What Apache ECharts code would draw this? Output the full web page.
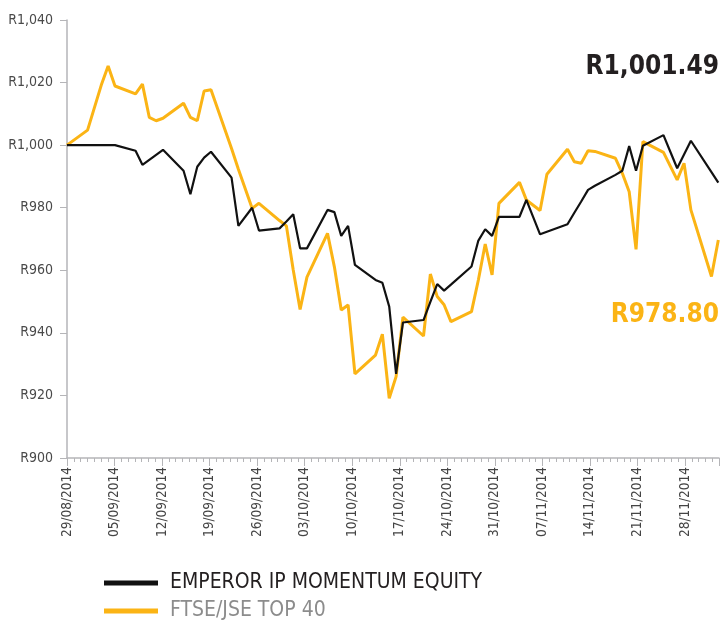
<!DOCTYPE html>
<html><head><meta charset="utf-8">
<script src="https://cdn.jsdelivr.net/npm/echarts@6/dist/echarts.min.js"></script>
<style>html,body{margin:0;padding:0;background:#fff}#c{width:721px;height:623px}</style>
</head><body><div id="c"></div>
<script>
// ---- DATA ----
const startDate = '29/08/2014';
const tradeDates = [
 '29/08/2014','01/09/2014','02/09/2014','03/09/2014','04/09/2014','05/09/2014',
 '08/09/2014','09/09/2014','10/09/2014','11/09/2014','12/09/2014',
 '15/09/2014','16/09/2014','17/09/2014','18/09/2014','19/09/2014',
 '22/09/2014','23/09/2014','25/09/2014','26/09/2014',
 '29/09/2014','30/09/2014','01/10/2014','02/10/2014','03/10/2014',
 '06/10/2014','07/10/2014','08/10/2014','09/10/2014','10/10/2014',
 '13/10/2014','14/10/2014','15/10/2014','16/10/2014','17/10/2014',
 '20/10/2014','21/10/2014','22/10/2014','23/10/2014','24/10/2014',
 '27/10/2014','28/10/2014','29/10/2014','30/10/2014','31/10/2014',
 '03/11/2014','04/11/2014','05/11/2014','06/11/2014','07/11/2014',
 '10/11/2014','11/11/2014','12/11/2014','13/11/2014','14/11/2014',
 '17/11/2014','18/11/2014','19/11/2014','20/11/2014','21/11/2014',
 '24/11/2014','25/11/2014','26/11/2014','27/11/2014','28/11/2014',
 '01/12/2014','02/12/2014'
];
const emperorValues = [
 1000.0,1000.0,1000.0,1000.0,1000.0,1000.0,
 998.2,993.7,995.3,996.9,998.5,
 991.8,984.3,993.1,996.0,997.9,
 989.6,974.2,980.0,972.7,
 973.4,975.6,977.9,967.0,967.0,
 979.3,978.6,971.0,974.2,961.7,
 956.9,956.0,948.4,926.9,943.3,
 944.1,949.9,955.6,953.5,955.4,
 961.2,969.5,973.1,971.0,977.1,
 977.1,982.5,977.0,971.5,972.3,
 974.7,978.4,982.0,985.7,987.0,
 990.5,991.8,999.7,991.8,999.8,
 1003.2,997.9,992.6,997.0,1001.4,
 991.4,988.0
];
const ftseValues = [
 1000.0,1004.8,1012.0,1019.2,1025.3,1018.9,
 1016.4,1019.5,1008.9,1007.8,1008.6,
 1013.4,1008.9,1007.8,1017.3,1017.7,
 998.9,992.3,979.8,981.4,
 975.9,974.2,960.1,947.5,957.8,
 971.8,961.1,947.3,948.9,926.9,
 932.9,939.6,919.1,926.0,945.0,
 939.0,958.8,951.6,949.0,943.6,
 946.8,956.9,968.4,958.5,981.4,
 988.1,982.5,980.8,979.1,990.7,
 998.7,994.7,994.2,998.2,998.0,
 995.8,991.0,985.1,966.7,1001.1,
 997.7,993.3,988.9,994.2,979.3,
 958.0,969.7
];
const seriesNames = ['EMPEROR IP MOMENTUM EQUITY', 'FTSE/JSE TOP 40'];
const endLabels = ['R1,001.49', 'R978.80'];
const yTicks = { min: 900, max: 1040, step: 20 };

// ---- helpers ----
function parseD(s){ const [d,m,y]=s.split('/').map(Number); return Date.UTC(y,m-1,d); }
const DAY = 86400000;
const t0 = parseD(startDate);
const dayIdx = s => Math.round((parseD(s)-t0)/DAY);
function fmtDay(v){
  const dt = new Date(t0 + v*DAY);
  const p = n => String(n).padStart(2,'0');
  return p(dt.getUTCDate())+'/'+p(dt.getUTCMonth()+1)+'/'+dt.getUTCFullYear();
}
function fmtR(v){ return 'R' + String(v).replace(/\B(?=(\d{3})+(?!\d))/g, ','); }

const FONT = "'DejaVu Sans Condensed','DejaVu Sans',sans-serif";
const ORANGE = '#FBB415';
const AXIS = '#b5b5b8';

const chart = echarts.init(document.getElementById('c'), null, {renderer:'canvas'});
chart.setOption({
  animation: false,
  backgroundColor: '#fff',
  title: [
    {text: endLabels[0], right: 2, top: 54, padding: 0, textStyle:{fontFamily:FONT, fontSize:26, fontWeight:'bold', color:'#231f20'}},
    {text: endLabels[1], right: 2, top: 302, padding: 0, textStyle:{fontFamily:FONT, fontSize:26, fontWeight:'bold', color:ORANGE}}
  ],
  legend: {
    orient: 'vertical', left: 104, top: 572, height: 120, padding: 0,
    itemWidth: 54, itemHeight: 5, itemGap: 6,
    icon: 'rect', selectedMode: false,
    textStyle: {fontFamily: FONT, fontSize: 21, padding:[0,0,0,7], lineHeight: 22},
    data: [
      {name: seriesNames[0], textStyle:{color:'#231f20'}},
      {name: seriesNames[1], textStyle:{color:'#8c8c8c'}}
    ]
  },
  grid: {left: 67, right: 2, top: 20, bottom: 165, containLabel: false},
  xAxis: [
    {
      type: 'value', min: 0, max: 96, interval: 7,
      axisLine: {lineStyle:{color:AXIS, width:1.5}},
      axisTick: {length: 8, lineStyle:{color:AXIS}},
      minorTick: {show: true, splitNumber: 7, length: 4, lineStyle:{color:AXIS}},
      splitLine: {show:false},
      axisLabel: {rotate: 90, margin: 9, color:'#444', fontFamily: FONT, fontSize: 13.5,
        showMaxLabel: false,
        formatter: v => (v % 7 === 0 ? fmtDay(v) : '')}
    },
    {type: 'value', min: 0, max: 95.1, show: false}
  ],
  yAxis: {
    type: 'value', min: yTicks.min, max: yTicks.max, interval: yTicks.step,
    axisLine: {show: true, lineStyle:{color:AXIS, width:1.5}},
    axisTick: {show: true, length: 7, lineStyle:{color:AXIS}},
    splitLine: {show:false},
    axisLabel: {margin: 14, color:'#4a4a4a', fontFamily: FONT, fontSize: 14, formatter: fmtR}
  },
  series: [
    {name: seriesNames[0], type:'line', xAxisIndex:1, showSymbol:false, symbol:'none',
     color:'#111', lineStyle:{width:2.2, color:'#111'}, z: 3,
     data: tradeDates.map((d,i)=>[dayIdx(d), emperorValues[i]])},
    {name: seriesNames[1], type:'line', xAxisIndex:1, showSymbol:false, symbol:'none',
     color:ORANGE, lineStyle:{width:3, color:ORANGE}, z: 2,
     data: tradeDates.map((d,i)=>[dayIdx(d), ftseValues[i]])}
  ]
});
</script></body></html>
